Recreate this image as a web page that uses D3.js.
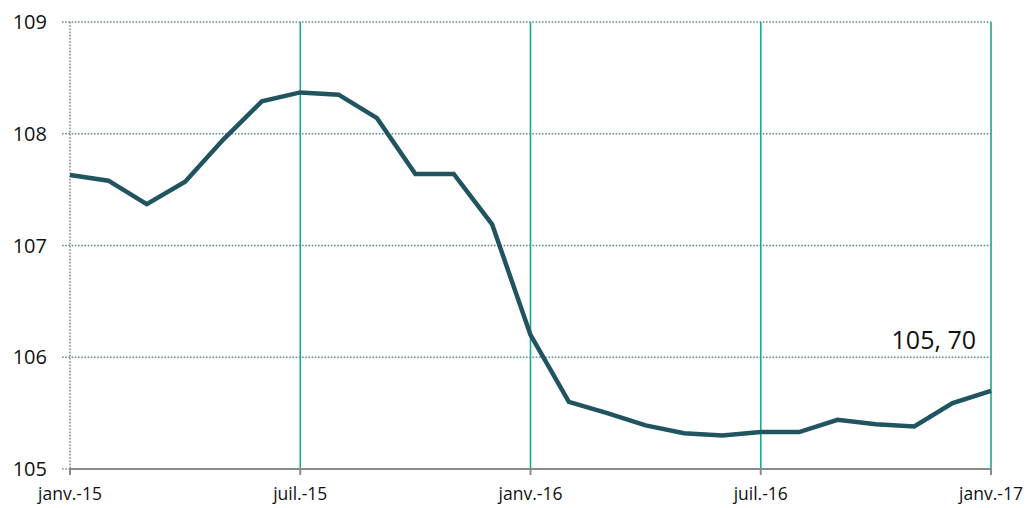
<!DOCTYPE html>
<html>
<head>
<meta charset="utf-8">
<script src="https://cdn.jsdelivr.net/npm/d3@7"></script>
<style>
  body { margin: 0; background: #fff; }
  svg text { font-family: "Open Sans", "Liberation Sans", sans-serif; fill: #111; }
</style>
</head>
<body>
<div id="chart"></div>
<script>
// monthly index, janv. 2015 -> janv. 2017 (one value per month)
var months = d3.range(25);
var values = [107.63, 107.58, 107.37, 107.57, 107.95, 108.29, 108.37, 108.35, 108.14, 107.64,
              107.64, 107.19, 106.20, 105.60, 105.50, 105.39, 105.32, 105.30, 105.33, 105.33,
              105.44, 105.40, 105.38, 105.59, 105.70];
var yTicks = [105, 106, 107, 108, 109];
var xTickMonths = [0, 6, 12, 18, 24];
var xTickLabels = ["janv.-15", "juil.-15", "janv.-16", "juil.-16", "janv.-17"];
var lastLabel = "105, 70";

var data = months.map(function(m, i){ return {month: m, value: values[i]}; });

var W = 1029, H = 508;
var margin = {top: 22, right: 38, bottom: 39, left: 70},
    width = W - margin.left - margin.right,
    height = H - margin.top - margin.bottom;

var svg = d3.select("#chart")
    .append("svg")
        .attr("width", W)
        .attr("height", H)
    .append("g")
        .attr("transform", "translate(" + margin.left + "," + margin.top + ")");

var x = d3.scaleLinear()
    .domain([0, 24])
    .range([0, width]);

var y = d3.scaleLinear()
    .domain([105, 109])
    .range([height, 0]);

// horizontal dotted gridlines
svg.append("g")
    .selectAll("line")
    .data(yTicks.filter(function(d){ return d > 105; }))
    .enter().append("line")
        .attr("x1", -8)
        .attr("x2", width)
        .attr("y1", function(d){ return y(d); })
        .attr("y2", function(d){ return y(d); })
        .attr("stroke", "#5f8a99")
        .attr("stroke-width", 1.6)
        .attr("stroke-dasharray", "1.6,1.6");

// vertical teal gridlines every 6 months
svg.append("g")
    .selectAll("line")
    .data(xTickMonths.slice(1))
    .enter().append("line")
        .attr("x1", function(d){ return x(d); })
        .attr("x2", function(d){ return x(d); })
        .attr("y1", 0)
        .attr("y2", height)
        .attr("stroke", "#1aa88e")
        .attr("stroke-width", 1.6);

// left axis (dotted grey)
svg.append("line")
    .attr("x1", 0).attr("x2", 0)
    .attr("y1", 0).attr("y2", height)
    .attr("stroke", "#8a8a8a")
    .attr("stroke-width", 1.6)
    .attr("stroke-dasharray", "1.6,1.6");

svg.append("line")
    .attr("x1", -8).attr("x2", 0)
    .attr("y1", height).attr("y2", height)
    .attr("stroke", "#8a8a8a")
    .attr("stroke-width", 1.6)
    .attr("stroke-dasharray", "1.6,1.6");

// y labels
svg.append("g")
    .selectAll("text")
    .data(yTicks)
    .enter().append("text")
        .attr("x", -23)
        .attr("y", function(d){ return y(d); })
        .attr("dy", "0.36em")
        .attr("text-anchor", "end")
        .style("font-size", "20px")
        .text(function(d){ return d; });

// bottom axis
svg.append("line")
    .attr("x1", 0).attr("x2", width)
    .attr("y1", height).attr("y2", height)
    .attr("stroke", "#8a8a8a")
    .attr("stroke-width", 2);

svg.append("g")
    .selectAll("line")
    .data(xTickMonths)
    .enter().append("line")
        .attr("x1", function(d){ return x(d); })
        .attr("x2", function(d){ return x(d); })
        .attr("y1", height)
        .attr("y2", height + 6)
        .attr("stroke", "#8a8a8a")
        .attr("stroke-width", 2);

svg.append("g")
    .selectAll("text")
    .data(xTickMonths)
    .enter().append("text")
        .attr("x", function(d){ return x(d); })
        .attr("y", height + 31)
        .attr("text-anchor", "middle")
        .style("font-size", "17.5px")
        .text(function(d, i){ return xTickLabels[i]; });

// the line
svg.append("path")
    .datum(data)
    .attr("fill", "none")
    .attr("stroke", "#215461")
    .attr("stroke-width", 4.5)
    .attr("stroke-linejoin", "miter")
    .attr("d", d3.line()
        .x(function(d){ return x(d.month); })
        .y(function(d){ return y(d.value); })
    );

// label on last point
var last = data[data.length - 1];
svg.append("text")
    .attr("x", x(last.month) - 15)
    .attr("y", y(last.value) - 42)
    .attr("text-anchor", "end")
    .style("font-size", "25px")
    .text(lastLabel);
</script>
</body>
</html>
